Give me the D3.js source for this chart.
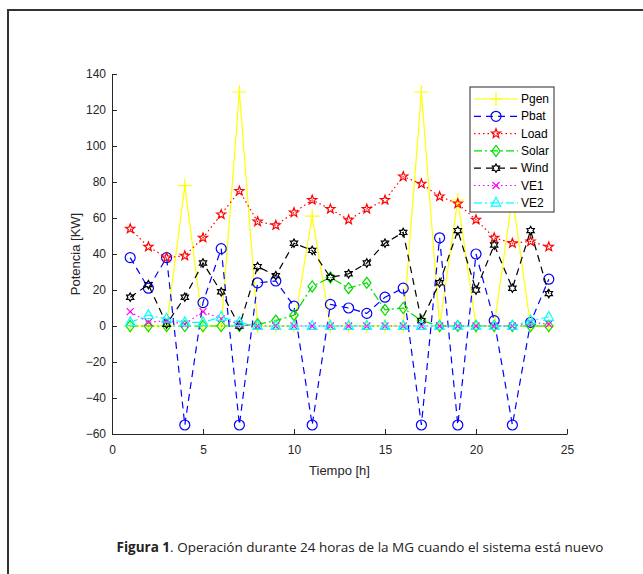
<!DOCTYPE html>
<html>
<head>
<meta charset="utf-8">
<script src="https://cdn.jsdelivr.net/npm/d3@7"></script>
<style>
  body { margin: 0; background: #fff; }
</style>
</head>
<body>
<div id="chart"></div>
<script>
// Hours of the day (x values).
var hours = [1, 2, 3, 4, 5, 6, 7, 8, 9, 10, 11, 12, 13, 14, 15, 16, 17, 18, 19, 20, 21, 22, 23, 24];

// Series values (kW).
var pgen  = [0, 0, 0, 78, 0, 0, 130, 0, 0, 0, 61, 0, 0, 0, 0, 0, 130, 0, 70, 0, 0, 72, 0, 0];
var pbat  = [38, 21, 38, -55, 13, 43, -55, 24, 25, 11, -55, 12, 10, 7, 16, 21, -55, 49, -55, 40, 3, -55, 2, 26];
var load  = [54, 44, 38, 39, 49, 62, 75, 58, 56, 63, 70, 65, 59, 65, 70, 83, 79, 72, 68, 59, 49, 46, 47, 44];
var solar = [0, 0, 0, 0, 0, 0, 0, 1, 3, 6, 22, 27, 21, 24, 9, 10, 3, 0, 0, 0, 0, 0, 0, 0];
var wind  = [16, 23, 1, 16, 35, 19, 0, 33, 28, 46, 42, 27, 29, 35, 46, 52, 3, 24, 53, 20, 45, 21, 53, 18];
var ve1   = [8, 2, 3, 1, 8, 4, 1, 0, 0, 0, 0, 0, 0, 0, 0, 0, 0, 0, 0, 0, 0, 0, 2, 1];
var ve2   = [2, 6, 4, 2, 2, 5, 2, 0, 0, 0, 0, 0, 0, 0, 0, 0, 0, 0, 0, 0, 0, 0, 3, 5];

// Tick labels.
var xTicks = [0, 5, 10, 15, 20, 25];
var yTicks = [-60, -40, -20, 0, 20, 40, 60, 80, 100, 120, 140];

// Legend names.
var names = ["Pgen", "Pbat", "Load", "Solar", "Wind", "VE1", "VE2"];

var W = 643, H = 574;

var svg = d3.select("#chart")
    .append("svg")
        .attr("width", W)
        .attr("height", H)
        .style("font-family", "'Liberation Sans', Arial, sans-serif");

// Outer frame of the figure (runs off the right and bottom edges).
svg.append("rect")
    .attr("x", 8)
    .attr("y", 10)
    .attr("width", 700)
    .attr("height", 620)
    .attr("fill", "none")
    .attr("stroke", "#333")
    .attr("stroke-width", 2);

var x = d3.scaleLinear().domain([0, 25]).range([112, 567]);
var y = d3.scaleLinear().domain([-60, 140]).range([434, 74]);

// Axes, ticks pointing inward like MATLAB.
var xAxis = d3.axisBottom(x).tickValues(xTicks).tickSizeInner(-5).tickSizeOuter(0).tickPadding(11);
var yAxis = d3.axisLeft(y).tickValues(yTicks).tickSizeInner(-5).tickSizeOuter(0).tickPadding(6);

var gx = svg.append("g").attr("transform", "translate(0," + 434 + ")").call(xAxis);
var gy = svg.append("g").attr("transform", "translate(112,0)").call(yAxis);

[gx, gy].forEach(function(g){
    g.select(".domain").attr("stroke", "#262626").attr("stroke-width", 1);
    g.selectAll(".tick line").attr("stroke", "#262626");
    g.selectAll(".tick text")
        .attr("fill", "#262626")
        .attr("font-size", "12px")
        .attr("font-family", "'Liberation Sans', Arial, sans-serif");
});

// Axis labels.
svg.append("text")
    .attr("x", 339.5)
    .attr("y", 475)
    .attr("text-anchor", "middle")
    .attr("font-size", "13px")
    .attr("fill", "#262626")
    .text("Tiempo [h]");

svg.append("text")
    .attr("transform", "translate(80,254) rotate(-90)")
    .attr("text-anchor", "middle")
    .attr("font-size", "13px")
    .attr("fill", "#262626")
    .text("Potencia [KW]");

// Marker shapes.
function starPath(n, rOut, rIn){
    var pts = [];
    for (var i = 0; i < 2*n; i++){
        var a = -Math.PI/2 + i*Math.PI/n;
        var r = (i % 2 == 0) ? rOut : rIn;
        pts.push([r*Math.cos(a), r*Math.sin(a)]);
    }
    return "M" + pts.map(function(p){ return p[0].toFixed(2) + "," + p[1].toFixed(2); }).join("L") + "Z";
}
var markers = {
    plus: "M-7,0L7,0M0,-7L0,7",
    circle: d3.symbol().type(d3.symbolCircle).size(Math.PI*25)(),
    pentagram: starPath(5, 4.8, 2.0),
    diamond: "M0,-5.5L4.2,0L0,5.5L-4.2,0Z",
    hexagram: starPath(6, 4.2, 2.4),
    cross: "M-3.5,-3.5L3.5,3.5M-3.5,3.5L3.5,-3.5",
    triangle: "M0,-5.5L4.8,3.3L-4.8,3.3Z"
};

// Series definitions built from the arrays above.
var series = [
    {name: names[0], values: pgen,  color: "#ffff00", dash: null,          marker: "plus"},
    {name: names[1], values: pbat,  color: "#0000ff", dash: "7,5",         marker: "circle"},
    {name: names[2], values: load,  color: "#ff0000", dash: "1.5,3",       marker: "pentagram"},
    {name: names[3], values: solar, color: "#00dd00", dash: "8,3,2,3",     marker: "diamond"},
    {name: names[4], values: wind,  color: "#000000", dash: "7,5",         marker: "hexagram"},
    {name: names[5], values: ve1,   color: "#ff00ff", dash: "1.5,3",       marker: "cross"},
    {name: names[6], values: ve2,   color: "#00ffff", dash: "8,3,2,3",     marker: "triangle"}
];

var line = d3.line()
    .x(function(d){ return x(d.h); })
    .y(function(d){ return y(d.v); });

series.forEach(function(s){
    var pts = hours.map(function(h, i){ return {h: h, v: s.values[i]}; });
    var g = svg.append("g");
    g.append("path")
        .datum(pts)
        .attr("d", line)
        .attr("fill", "none")
        .attr("stroke", s.color)
        .attr("stroke-width", 1.2)
        .attr("stroke-dasharray", s.dash);
    g.selectAll("path.mk")
        .data(pts)
        .enter()
        .append("path")
            .attr("class", "mk")
            .attr("transform", function(d){ return "translate(" + x(d.h) + "," + y(d.v) + ")"; })
            .attr("d", markers[s.marker])
            .attr("fill", "none")
            .attr("stroke", s.color)
            .attr("stroke-width", 1.2);
});

// Legend box.
var legend = svg.append("g").attr("transform", "translate(470,87)");
legend.append("rect")
    .attr("width", 84)
    .attr("height", 125)
    .attr("fill", "#fff")
    .attr("stroke", "#262626")
    .attr("stroke-width", 1);

series.forEach(function(s, i){
    var row = legend.append("g").attr("transform", "translate(0," + (12 + i*17.3) + ")");
    row.append("line")
        .attr("x1", 4).attr("x2", 48)
        .attr("stroke", s.color)
        .attr("stroke-width", 1.2)
        .attr("stroke-dasharray", s.dash);
    row.append("path")
        .attr("transform", "translate(26,0)")
        .attr("d", markers[s.marker])
        .attr("fill", "none")
        .attr("stroke", s.color)
        .attr("stroke-width", 1.2);
    row.append("text")
        .attr("x", 51)
        .attr("y", 4)
        .attr("font-size", "12px")
        .attr("fill", "#000")
        .text(s.name);
});

// Figure caption.
var caption = svg.append("text")
    .attr("x", 360)
    .attr("y", 552)
    .attr("text-anchor", "middle")
    .attr("font-family", "'Open Sans', 'Noto Sans', sans-serif")
    .attr("font-size", "13.5px")
    .attr("fill", "#222");
caption.append("tspan").attr("font-weight", "bold").text("Figura 1");
caption.append("tspan").text(". Operación durante 24 horas de la MG cuando el sistema está nuevo");
</script>
</body>
</html>
